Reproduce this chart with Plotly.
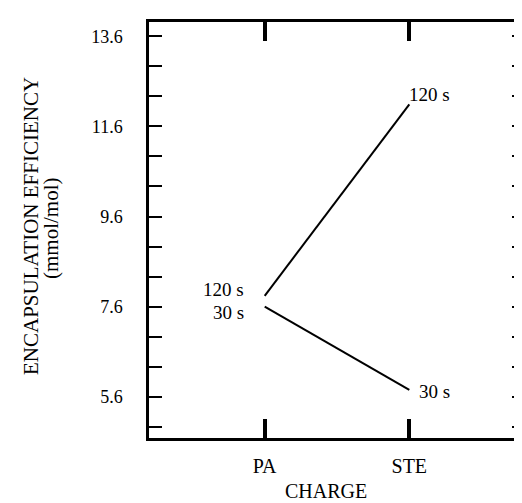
import plotly.graph_objects as go

# ---- data ----
categories = ["PA", "STE"]
series_names = ["120 s", "30 s"]
values_120s = [7.84, 12.09]
values_30s = [7.60, 5.75]

y_label_vals = [5.6, 7.6, 9.6, 11.6, 13.6]
y_minor_step = 2 / 3
x_title = "CHARGE"
y_title_line1 = "ENCAPSULATION EFFICIENCY"
y_title_line2 = "(mmol/mol)"

FONT = "Liberation Serif"
x_pos = list(range(len(categories)))

fig = go.Figure()
for vals in (values_120s, values_30s):
    fig.add_trace(go.Scatter(x=x_pos, y=vals, mode="lines",
                             line=dict(color="black", width=2),
                             showlegend=False, hoverinfo="skip"))

# tick values every 2/3 with labels only at the main values
tickvals = []
v = 5.6 - y_minor_step
while v < 13.7:
    tickvals.append(round(v, 4))
    v += y_minor_step
ticktext = []
for t in tickvals:
    match = [lab for lab in y_label_vals if abs(lab - t) < 1e-3]
    ticktext.append(f"{match[0]:.1f}" if match else "")

# line-end labels: (anchor, xshift, yshift) at PA and STE
label_specs = [
    (values_120s, series_names[0], [("right", -19, 6), ("left", -2, 10)]),
    (values_30s, series_names[1], [("right", -19, -6), ("left", 8, -2)]),
]
anns = []
for vals, name, specs in label_specs:
    for i, (anchor, xs, ys) in enumerate(specs):
        anns.append(dict(x=x_pos[i], y=vals[i], xref="x", yref="y", text=name,
                         showarrow=False, xanchor=anchor, yanchor="middle",
                         xshift=xs, yshift=ys,
                         font=dict(family=FONT, size=19, color="black")))

anns.append(dict(x=0.5, y=0, xref="paper", yref="paper", text=x_title,
                 showarrow=False, xanchor="center", yanchor="middle",
                 xshift=-11, yshift=-53,
                 font=dict(family=FONT, size=20, color="black")))
anns.append(dict(x=0, y=0.5, xref="paper", yref="paper", text=y_title_line1,
                 showarrow=False, xanchor="center", yanchor="middle",
                 textangle=-90, xshift=-118, yshift=4,
                 font=dict(family=FONT, size=21, color="black")))
anns.append(dict(x=0, y=0.5, xref="paper", yref="paper", text=y_title_line2,
                 showarrow=False, xanchor="center", yanchor="middle",
                 textangle=-90, xshift=-98, yshift=2,
                 font=dict(family=FONT, size=21, color="black")))

fig.update_layout(
    width=522, height=503,
    margin=dict(l=141, r=2, t=14, b=73),
    paper_bgcolor="white", plot_bgcolor="white",
    font=dict(family=FONT, size=18, color="black"),
    annotations=anns,
    xaxis=dict(range=[-0.8, 1.8], tickmode="array", tickvals=x_pos,
               ticktext=categories, ticks="inside", ticklen=19, tickwidth=4,
               tickcolor="black", showline=True, linecolor="black", linewidth=2.5,
               mirror="ticks", showgrid=False, zeroline=False,
               ticklabelstandoff=8, tickfont=dict(family=FONT, size=20)),
    yaxis=dict(range=[4.684, 13.917], tickmode="array", tickvals=tickvals,
               ticktext=ticktext, ticks="inside", ticklen=13, tickwidth=2,
               tickcolor="black", showline=True, linecolor="black", linewidth=2.5,
               mirror="ticks", showgrid=False, zeroline=False,
               ticklabelstandoff=20, tickfont=dict(family=FONT, size=18)),
)

fig.write_html("out.html")
